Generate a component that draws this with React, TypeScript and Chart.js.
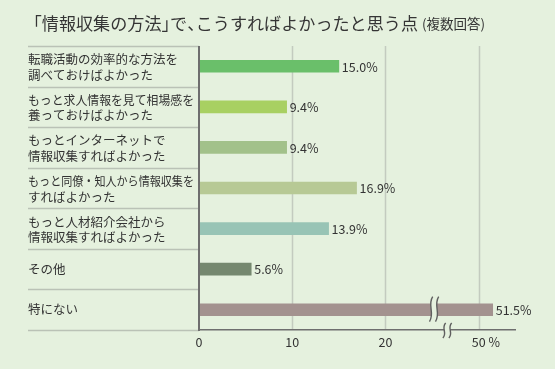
import React, { useEffect, useRef } from "react";
import { Chart, registerables } from "chart.js";

Chart.register(...registerables);

const TITLE = "「情報収集の方法」で、こうすればよかったと思う点";
const SUBTITLE = "(複数回答)";

const CATEGORIES: string[][] = [
  ["転職活動の効率的な方法を", "調べておけばよかった"],
  ["もっと求人情報を見て相場感を", "養っておけばよかった"],
  ["もっとインターネットで", "情報収集すればよかった"],
  ["もっと同僚・知人から情報収集を", "すればよかった"],
  ["もっと人材紹介会社から", "情報収集すればよかった"],
  ["その他"],
  ["特にない"],
];

const VALUES: number[] = [15.0, 9.4, 9.4, 16.9, 13.9, 5.6, 51.5];

const COLORS: string[] = [
  "#6abf6a",
  "#a8d062",
  "#a2c18a",
  "#b7c995",
  "#98c4b5",
  "#75886f",
  "#a3928f",
];

const TICK_VALUES: number[] = [0, 10, 20, 50];
const TICK_LABELS: string[] = ["0", "10", "20", "50"];

// axis break: the range 20..50 is collapsed into 20..30 on the drawn axis
const BREAK_START = 25;
const BREAK_SHIFT = 20;
const toAxis = (v: number) => (v > BREAK_START ? v - BREAK_SHIFT : v);

const BG = "#e5f1de";
const TEXT = "#333333";
const FONT = '"Noto Sans CJK JP", "Noto Sans", sans-serif';

function squiggle(ctx: CanvasRenderingContext2D, cx: number, top: number, bottom: number, gap: number, amp: number) {
  const h = bottom - top;
  const path = (x: number) => {
    ctx.moveTo(x + amp * 0.4, top);
    ctx.bezierCurveTo(x - amp, top + h * 0.35, x + amp, bottom - h * 0.35, x - amp * 0.4, bottom);
  };
  ctx.save();
  ctx.beginPath();
  ctx.moveTo(cx + amp * 0.4, top);
  ctx.bezierCurveTo(cx - amp, top + h * 0.35, cx + amp, bottom - h * 0.35, cx - amp * 0.4, bottom);
  ctx.lineTo(cx + gap - amp * 0.4, bottom);
  ctx.bezierCurveTo(cx + gap + amp, bottom - h * 0.35, cx + gap - amp, top + h * 0.35, cx + gap + amp * 0.4, top);
  ctx.closePath();
  ctx.fillStyle = BG;
  ctx.fill();
  ctx.beginPath();
  path(cx);
  path(cx + gap);
  ctx.strokeStyle = "#5f5f5f";
  ctx.lineWidth = 1.4;
  ctx.stroke();
  ctx.restore();
}

// draws Japanese text with proportional (half-width) brackets and commas
const OPEN_PUNCT = "「（";
const CLOSE_PUNCT = "」、。）";
function propWidth(text: string, em: number) {
  let w = 0;
  for (const ch of text) w += OPEN_PUNCT.includes(ch) || CLOSE_PUNCT.includes(ch) ? em / 2 : em;
  return w;
}
function drawProp(ctx: CanvasRenderingContext2D, text: string, x: number, yy: number, em: number) {
  ctx.textAlign = "left";
  let cx = x;
  for (const ch of text) {
    if (OPEN_PUNCT.includes(ch)) {
      ctx.fillText(ch, cx - em / 2, yy);
      cx += em / 2;
    } else if (CLOSE_PUNCT.includes(ch)) {
      ctx.fillText(ch, cx, yy);
      cx += em / 2;
    } else {
      ctx.fillText(ch, cx, yy);
      cx += em;
    }
  }
}

const decoPlugin = {
  id: "deco",
  beforeDatasetsDraw(chart: any) {
    const { ctx, chartArea } = chart;
    const { left, top, bottom } = chartArea;
    const x = chart.scales.x;
    ctx.save();
    ctx.strokeStyle = "#c3cbbf";
    ctx.lineWidth = 1.5;
    TICK_VALUES.forEach((t) => {
      if (t === 0) return;
      const px = Math.round(x.getPixelForValue(toAxis(t))) + 0.5;
      ctx.beginPath();
      ctx.moveTo(px, top);
      ctx.lineTo(px, bottom);
      ctx.stroke();
    });
    const n = CATEGORIES.length;
    const band = (bottom - top) / n;
    ctx.strokeStyle = "#bac2b6";
    ctx.lineWidth = 1.5;
    for (let i = 0; i <= n; i++) {
      const yy = Math.round(top + i * band) + 0.5;
      ctx.beginPath();
      ctx.moveTo(28, yy);
      ctx.lineTo(left, yy);
      ctx.stroke();
    }
    ctx.restore();
  },
  afterDatasetsDraw(chart: any) {
    const { ctx, chartArea } = chart;
    const { left, right, top, bottom } = chartArea;
    const x = chart.scales.x;
    const y = chart.scales.y;
    const meta = chart.getDatasetMeta(0);
    ctx.save();

    const lastBar = meta.data[VALUES.length - 1];
    squiggle(ctx, x.getPixelForValue(BREAK_START) - 1, lastBar.y - 13, lastBar.y + 12, 6, 4);

    ctx.strokeStyle = "#6e6e6e";
    ctx.lineWidth = 2;
    ctx.beginPath();
    ctx.moveTo(left, top);
    ctx.lineTo(left, bottom + 1);
    ctx.stroke();
    ctx.lineWidth = 1.5;
    ctx.beginPath();
    ctx.moveTo(left, bottom - 0.25);
    ctx.lineTo(right, bottom - 0.25);
    ctx.stroke();

    squiggle(ctx, x.getPixelForValue(BREAK_START + 1.2) + 1, bottom - 7, bottom + 8, 6, 3.5);

    ctx.fillStyle = TEXT;
    ctx.font = `12.5px ${FONT}`;
    ctx.textAlign = "left";
    ctx.textBaseline = "middle";
    meta.data.forEach((bar: any, i: number) => {
      ctx.fillText(VALUES[i].toFixed(1) + "%", bar.x + 3, bar.y + 0.5);
    });

    ctx.font = `12.5px ${FONT}`;
    CATEGORIES.forEach((lines, i) => {
      const cy = y.getPixelForValue(i);
      const lh = 15.5;
      const start = cy - ((lines.length - 1) * lh) / 2 + (lines.length > 1 ? 1 : 0);
      lines.forEach((ln, j) => {
        ctx.fillText(ln, 28, start + j * lh, 166);
      });
    });

    ctx.font = `12.5px ${FONT}`;
    ctx.textAlign = "center";
    TICK_VALUES.forEach((t, i) => {
      const px = x.getPixelForValue(toAxis(t));
      ctx.fillText(TICK_LABELS[i], px, bottom + 12);
      if (i === TICK_VALUES.length - 1) {
        const w = ctx.measureText(TICK_LABELS[i]).width;
        ctx.textAlign = "left";
        ctx.fillText(" %", px + w / 2, bottom + 12);
        ctx.textAlign = "center";
      }
    });

    ctx.fillStyle = "#353535";
    const em = 17.1;
    ctx.font = `${em}px ${FONT}`;
    const tw = propWidth(TITLE, em);
    drawProp(ctx, TITLE, 418 - tw, 23, em);
    ctx.font = `13.5px ${FONT}`;
    ctx.textAlign = "left";
    ctx.fillText(SUBTITLE, 422, 24);

    ctx.restore();
  },
};

export default function App() {
  const ref = useRef<HTMLCanvasElement | null>(null);
  useEffect(() => {
    document.body.style.margin = "0";
    if (!ref.current) return;
    const chart = new Chart(ref.current, {
      type: "bar",
      data: {
        labels: CATEGORIES.map((c) => c.join("")),
        datasets: [
          {
            data: VALUES.map(toAxis),
            backgroundColor: COLORS,
            borderWidth: 0,
            barThickness: 12,
          },
        ],
      },
      options: {
        indexAxis: "y",
        responsive: false,
        animation: false,
        devicePixelRatio: 1,
        layout: { padding: { left: 199, top: 46, right: 39, bottom: 39 } },
        plugins: { legend: { display: false }, tooltip: { enabled: false }, title: { display: false } },
        scales: {
          x: { type: "linear", min: 0, max: 34, display: false },
          y: { type: "category", display: false, offset: true },
        },
      },
      plugins: [decoPlugin],
    });
    return () => chart.destroy();
  }, []);
  return (
    <div style={{ width: 555, height: 369, background: BG }}>
      <canvas ref={ref} width={555} height={369} style={{ display: "block" }} />
    </div>
  );
}
